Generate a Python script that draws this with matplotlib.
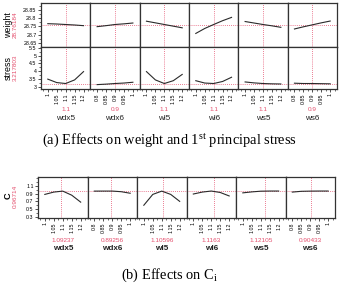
import matplotlib

matplotlib.use("Agg")
import matplotlib.pyplot as plt
from matplotlib.ticker import FixedLocator, MultipleLocator

plt.rcParams["font.family"] = ["Liberation Sans", "DejaVu Sans"]

W, H = 341, 283
RED = "#e4506e"
LINE = "#333333"

factors = ["wdx5", "wdx6", "wl5", "wl6", "ws5", "ws6"]
grid_hi = [1.0, 1.05, 1.1, 1.15, 1.2]
grid_lo = [0.8, 0.85, 0.9, 0.95, 1.0]
labels_hi = ["1", "1.05", "1.1", "1.15", "1.2"]
labels_lo = ["0.8", "0.85", "0.9", "0.95", "1"]
uses_lo = [False, True, False, False, False, True]

# (a) current settings and responses
current_a = [1.1, 0.9, 1.1, 1.1, 1.1, 0.9]
current_a_text = ["1.1", "0.9", "1.1", "1.1", "1.1", "0.9"]
weight_now, weight_text = 28.76184, "28.76184"
stress_now, stress_text = 3.217803, "3.217803"
weight = [
    [28.767, 28.765, 28.762, 28.759, 28.755],
    [28.749, 28.755, 28.762, 28.766, 28.771],
    [28.782, 28.772, 28.762, 28.752, 28.742],
    [28.708, 28.738, 28.762, 28.785, 28.805],
    [28.780, 28.771, 28.762, 28.754, 28.745],
    [28.735, 28.748, 28.760, 28.772, 28.783],
]
stress = [
    [3.50, 3.28, 3.22, 3.45, 3.98],
    [3.15, 3.18, 3.22, 3.25, 3.30],
    [3.98, 3.45, 3.22, 3.40, 3.80],
    [3.40, 3.25, 3.22, 3.35, 3.62],
    [3.32, 3.26, 3.22, 3.20, 3.19],
    [3.24, 3.22, 3.22, 3.21, 3.20],
]

# (b) current settings and response
current_b = [1.09237, 0.89256, 1.10596, 1.1163, 1.12105, 0.90433]
current_b_text = ["1.09237", "0.89256", "1.10596", "1.1163", "1.12105", "0.90433"]
c_now, c_text = 0.96714, "0.96714"
c_vals = [
    [0.88, 0.94, 0.965, 0.86, 0.68],
    [0.965, 0.966, 0.966, 0.95, 0.91],
    [0.60, 0.88, 0.965, 0.88, 0.70],
    [0.89, 0.94, 0.967, 0.93, 0.84],
    [0.92, 0.945, 0.963, 0.967, 0.967],
    [0.94, 0.96, 0.965, 0.967, 0.967],
]


def box(x0, y0, x1, y1):
    return [x0 / W, 1 - y1 / H, (x1 - x0) / W, (y1 - y0) / H]


def style(ax, lo, show_x, show_y, ylim, yticks, yminor):
    xlo = 0.762 if lo else 0.962
    ax.set_xlim(xlo, xlo + 0.276)
    ax.set_ylim(*ylim)
    for s in ax.spines.values():
        s.set_linewidth(0.9)
        s.set_color(LINE)
    ax.xaxis.set_major_locator(FixedLocator(grid_lo if lo else grid_hi))
    ax.xaxis.set_minor_locator(MultipleLocator(0.025))
    ax.yaxis.set_major_locator(FixedLocator(yticks))
    ax.yaxis.set_minor_locator(MultipleLocator(yminor))
    ax.tick_params(which="major", length=2.2, width=0.6, color=LINE, pad=1, labelsize=3.8)
    ax.tick_params(which="minor", length=1.3, width=0.5, color=LINE)
    if show_x:
        ax.set_xticklabels(labels_lo if lo else labels_hi, rotation=90)
    else:
        ax.tick_params(axis="x", which="both", bottom=False, labelbottom=False)
    if show_y:
        ax.set_yticklabels([f"{t:g}" for t in yticks])
    else:
        ax.tick_params(axis="y", which="both", left=False, labelleft=False)


def cross(ax, xv, yv):
    ax.axvline(xv, color=RED, lw=0.6, ls=(0, (1, 1.5)), zorder=1)
    ax.axhline(yv, color=RED, lw=0.6, ls=(0, (1, 1.5)), zorder=1)


fig = plt.figure(figsize=(W / 100, H / 100), dpi=100)

# ---- (a) weight / stress profiler
pw = (337 - 41) / 6
for i, name in enumerate(factors):
    xs = grid_lo if uses_lo[i] else grid_hi
    x0 = 41 + i * pw
    ax_w = fig.add_axes(box(x0, 3, x0 + pw, 47))
    style(ax_w, uses_lo[i], False, i == 0, (28.626, 28.892),
          [28.65, 28.7, 28.75, 28.8, 28.85], 0.025)
    cross(ax_w, current_a[i], weight_now)
    ax_w.plot(xs, weight[i], color="#2a2a2a", lw=0.8, zorder=2)

    ax_s = fig.add_axes(box(x0, 47, x0 + pw, 89))
    style(ax_s, uses_lo[i], True, i == 0, (2.87, 5.55),
          [3, 3.5, 4, 4.5, 5, 5.5], 0.25)
    cross(ax_s, current_a[i], stress_now)
    ax_s.plot(xs, stress[i], color="#2a2a2a", lw=0.8, zorder=2)

    cx = (x0 + pw / 2) / W
    fig.text(cx, 1 - 109 / H, current_a_text[i], color=RED, fontsize=4.6, ha="center", va="center")
    fig.text(cx, 1 - 118.5 / H, name, color="#222222", fontsize=5.9, ha="center", va="center")

fig.text(8.5 / W, 1 - 25 / H, "weight", rotation=90, fontsize=6.4, ha="center", va="center")
fig.text(15.5 / W, 1 - 25 / H, weight_text, rotation=90, fontsize=4.6, color=RED, ha="center", va="center")
fig.text(8.5 / W, 1 - 68 / H, "stress", rotation=90, fontsize=6.4, ha="center", va="center")
fig.text(15.5 / W, 1 - 68 / H, stress_text, rotation=90, fontsize=4.6, color=RED, ha="center", va="center")

fig.text(170 / W, 1 - 141 / H, "(a) Effects on weight and 1$^{\\mathregular{st}}$ principal stress",
         family="Liberation Serif", fontsize=10.4, ha="center", va="center")

# ---- (b) C profiler
pb = (335 - 38) / 6
for i, name in enumerate(factors):
    xs = grid_lo if uses_lo[i] else grid_hi
    x0 = 38 + i * pb
    ax_c = fig.add_axes(box(x0, 177, x0 + pb, 218))
    style(ax_c, uses_lo[i], True, i == 0, (0.27, 1.33),
          [0.3, 0.5, 0.7, 0.9, 1.1], 0.1)
    cross(ax_c, current_b[i], c_now)
    ax_c.plot(xs, c_vals[i], color="#2a2a2a", lw=0.8, zorder=2)

    cx = (x0 + pb / 2) / W
    fig.text(cx, 1 - 240 / H, current_b_text[i], color=RED, fontsize=4.6, ha="center", va="center")
    fig.text(cx, 1 - 248.5 / H, name, color="#222222", fontsize=5.9, weight="bold", ha="center", va="center")

fig.text(8.5 / W, 1 - 196 / H, "C", rotation=90, fontsize=6.6, weight="bold", ha="center", va="center")
fig.text(15.5 / W, 1 - 196 / H, c_text, rotation=90, fontsize=4.6, color=RED, ha="center", va="center")

fig.text(170 / W, 1 - 275 / H, "(b) Effects on C$_{\\mathregular{i}}$",
         family="Liberation Serif", fontsize=10.4, ha="center", va="center")

fig.savefig("out.png", dpi=100)
